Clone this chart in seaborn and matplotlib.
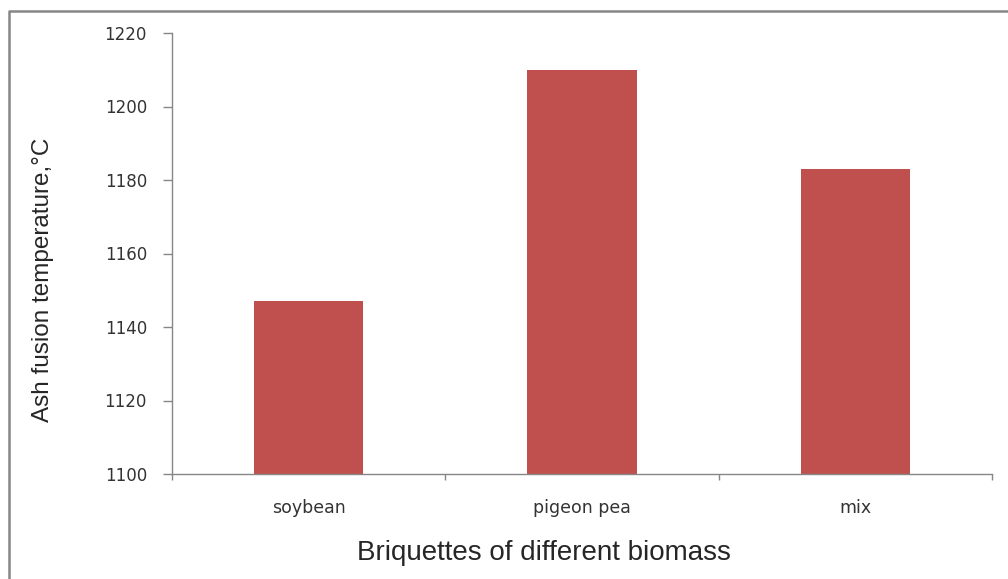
import matplotlib
matplotlib.use('Agg')

import matplotlib.pyplot as plt
import pandas as pd
import seaborn as sns
from matplotlib.lines import Line2D

# ------------------------------------------------------------
#     Data
# ------------------------------------------------------------

biomass = ["soybean", "pigeon pea", "mix"]
ash_fusion_temp = [1147, 1210, 1183]
y_ticks = [1100, 1120, 1140, 1160, 1180, 1200, 1220]

df = pd.DataFrame({"biomass": biomass, "temp": ash_fusion_temp})

# ------------------------------------------------------------
#     Plotting
# ------------------------------------------------------------

sns.set_style("white")
plt.rcParams['font.family'] = ['Liberation Sans', 'DejaVu Sans']

axis_grey = "#868686"
tick_font = ['DejaVu Sans']
tick_colour = "#333333"

fig = plt.figure(figsize=(10.08, 5.79), dpi=100)
W, H = 1008, 579
ax = fig.add_axes([172 / W, 1 - 474 / H, (992 - 172) / W, (474 - 33) / H])

sns.barplot(data=df, x="biomass", y="temp", color="#C0504D", width=0.4,
            saturation=1, ax=ax, linewidth=0)

ax.set_ylim(1100, 1220)
ax.set_xlim(-0.5, 2.5)
ax.set_yticks(y_ticks)
ax.set_yticklabels([str(v) for v in y_ticks], family=tick_font, fontsize=12, color=tick_colour)

# Excel-style: tick marks between categories, labels centered
ax.set_xticks([-0.5, 0.5, 1.5, 2.5])
ax.set_xticklabels([])
ax.set_xticks([0, 1, 2], minor=True)
ax.set_xticklabels(biomass, minor=True, family=tick_font, fontsize=12.5, color=tick_colour)
ax.tick_params(axis='x', which='minor', bottom=True, length=0, pad=18)
ax.tick_params(axis='x', which='major', bottom=True, length=4.3, width=1,
               color=axis_grey, direction='out')
ax.tick_params(axis='y', left=True, length=6.5, width=1, color=axis_grey,
               direction='out', pad=11.5)

for s in ["top", "right"]:
    ax.spines[s].set_visible(False)
for s in ["left", "bottom"]:
    ax.spines[s].set_color(axis_grey)
    ax.spines[s].set_linewidth(1)

ax.set_xlabel("")
ax.set_ylabel("")
fig.text(544 / W, 1 - 553 / H, "Briquettes of different biomass", fontsize=20,
         ha="center", va="center")
fig.text(43 / W, 1 - 280 / H, "Ash fusion temperature,°C", fontsize=17.5,
         ha="center", va="center", rotation=90)

# outer frame of the chart area (only left and top edges are in view)
fig.lines.append(Line2D([9 / W, 9 / W, 1.0], [0.0, 1 - 11 / H, 1 - 11 / H],
                        transform=fig.transFigure, color=axis_grey, linewidth=1.8))

plt.savefig("out.png", dpi=100)
